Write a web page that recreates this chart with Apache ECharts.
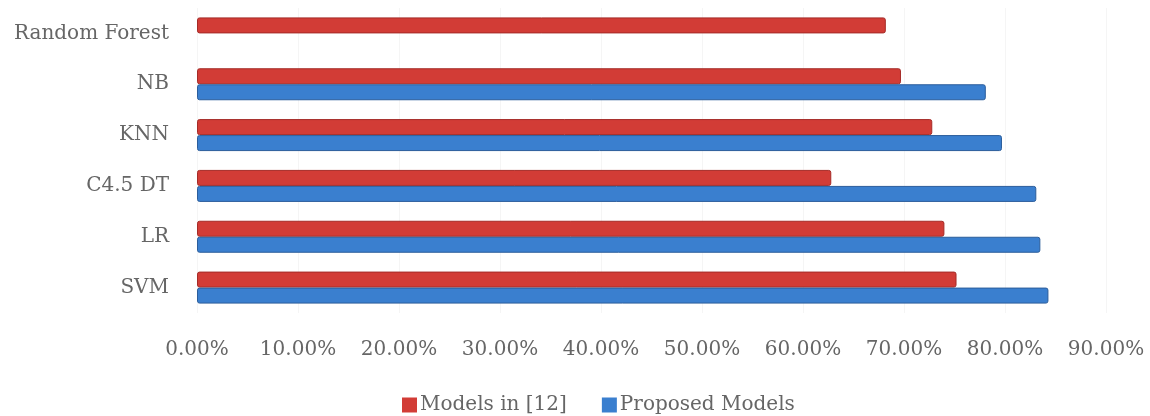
<!DOCTYPE html>
<html>
<head>
<meta charset="utf-8">
<script src="https://cdn.jsdelivr.net/npm/echarts@6/dist/echarts.min.js"></script>
<style>html,body{margin:0;padding:0;background:#fff}#c{width:1150px;height:416px}</style>
</head>
<body>
<div id="c"></div>
<script>
const categories = ['SVM', 'LR', 'C4.5 DT', 'KNN', 'NB', 'Random Forest'];
const modelsIn12 = [75.2, 74.0, 62.8, 72.8, 69.7, 68.2];
const proposedModels = [84.3, 83.5, 83.1, 79.7, 78.1, null];
const seriesNames = ['Models in [12]', 'Proposed Models'];

const chart = echarts.init(document.getElementById('c'));
const font = 'DejaVu Serif';
chart.setOption({
  animation: false,
  backgroundColor: '#fff',
  grid: { left: 197, right: 44, top: 8, bottom: 103 },
  legend: {
    data: seriesNames,
    left: 397, top: 390,
    itemWidth: 15, itemHeight: 15, itemGap: 35,
    icon: 'rect',
    itemStyle: { borderWidth: 0 },
    textStyle: { fontFamily: font, fontSize: 20, color: '#666', padding: [0, 0, 0, -2] }
  },
  xAxis: {
    type: 'value', min: 0, max: 90, interval: 10,
    axisLine: { show: false }, axisTick: { show: false },
    splitLine: { show: true, lineStyle: { color: '#f5f5f5' } },
    axisLabel: { margin: 27, fontFamily: font, fontSize: 20, color: '#666',
      formatter: v => v.toFixed(2) + '%' }
  },
  yAxis: {
    type: 'category', data: categories,
    axisLine: { show: false }, axisTick: { show: false },
    axisLabel: { margin: 28, fontFamily: font, fontSize: 20, color: '#666' }
  },
  series: [
    { name: seriesNames[0], type: 'bar', data: modelsIn12, barWidth: 16, barGap: '0%',
      itemStyle: { color: '#d23c36', borderColor: '#a52b27', borderWidth: 1, borderRadius: 2 } },
    { name: seriesNames[1], type: 'bar', data: proposedModels, barWidth: 16, barGap: '0%',
      itemStyle: { color: '#3a7fcf', borderColor: '#2b5d9b', borderWidth: 1, borderRadius: 2 } }
  ]
});
</script>
</body>
</html>
